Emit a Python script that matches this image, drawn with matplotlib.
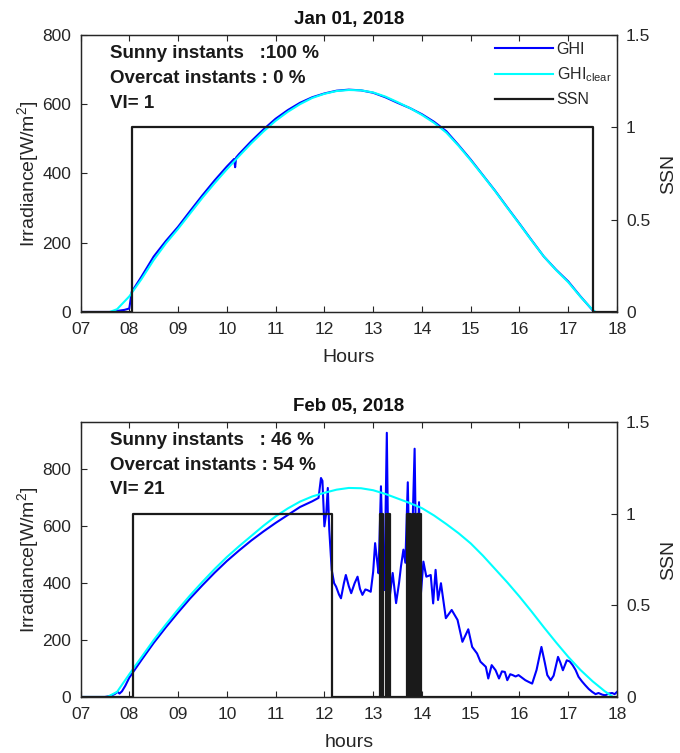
import matplotlib
matplotlib.use('Agg')
import matplotlib.pyplot as plt
from matplotlib.lines import Line2D

plt.rcParams['font.family'] = ['Liberation Sans', 'DejaVu Sans']
plt.rcParams['mathtext.default'] = 'regular'
plt.rcParams['font.size'] = 12

# ---- Jan 01, 2018 ----
jan_t = [7.00, 7.60, 7.65, 7.75, 7.90, 8.00, 8.05, 8.25, 8.50, 8.75, 9.00, 9.25, 9.50,
         9.75, 10.00, 10.15, 10.17, 10.19, 10.25, 10.50, 10.75, 11.00, 11.25, 11.50,
         11.75, 12.00, 12.25, 12.50, 12.75, 13.00, 13.25, 13.50, 13.75, 14.00, 14.25,
         14.50, 14.75, 15.00, 15.25, 15.50, 15.75, 16.00, 16.25, 16.50, 16.75, 17.00,
         17.25, 17.50, 17.53]
jan_ghi = [0, 0, 0, 3, 6, 10, 58, 102, 160, 205, 246, 292, 337, 380, 420, 442, 418,
           446, 456, 493, 527, 558, 583, 604, 620, 631, 639, 642, 640, 633, 620, 604,
           589, 571, 549, 522, 482, 440, 395, 350, 302, 255, 207, 160, 122, 88, 45, 5, 0]
jan_clr_t = [7.60, 7.75, 8.00, 8.25, 8.50, 8.75, 9.00, 9.25, 9.50, 9.75, 10.00, 10.25,
             10.50, 10.75, 11.00, 11.25, 11.50, 11.75, 12.00, 12.25, 12.50, 12.75, 13.00,
             13.25, 13.50, 13.75, 14.00, 14.25, 14.50, 14.75, 15.00, 15.25, 15.50, 15.75,
             16.00, 16.25, 16.50, 16.75, 17.00, 17.25, 17.50, 17.56]
jan_clr = [0, 8, 45, 95, 150, 198, 240, 285, 330, 372, 412, 450, 487, 521, 552, 578, 600,
           618, 630, 638, 641, 640, 634, 622, 606, 589, 569, 546, 518, 480, 438, 394, 349,
           301, 254, 206, 160, 121, 86, 44, 6, 0]
jan_ssn_t = [7.00, 8.05, 17.50, 18.00]
jan_ssn = [0, 1, 0, 0]

# ---- Feb 05, 2018 ----
feb_t = [7.00, 7.50, 7.60, 7.70, 7.76, 7.80, 7.85, 7.92, 8.00, 8.25, 8.50, 8.75, 9.00,
         9.25, 9.50, 9.75, 10.00, 10.25, 10.50, 10.75, 11.00, 11.25, 11.50, 11.75, 11.88,
         11.93, 11.96, 12.00, 12.04, 12.07, 12.10, 12.15, 12.20, 12.24, 12.30, 12.34,
         12.40, 12.44, 12.50, 12.55, 12.62, 12.68, 12.73, 12.78, 12.84, 12.88, 12.95,
         13.00, 13.04, 13.08, 13.11, 13.16, 13.20, 13.23, 13.28, 13.31, 13.34, 13.40,
         13.47, 13.53, 13.57, 13.62, 13.66, 13.71, 13.74, 13.77, 13.85, 13.89, 13.94,
         13.98, 14.03, 14.09, 14.18, 14.23, 14.28, 14.33, 14.39, 14.49, 14.61, 14.73,
         14.83, 14.95, 15.03, 15.13, 15.20, 15.31, 15.36, 15.43, 15.51, 15.58, 15.64,
         15.70, 15.75, 15.81, 15.86, 15.92, 15.98, 16.05, 16.12, 16.20, 16.26, 16.35,
         16.45, 16.52, 16.57, 16.64, 16.70, 16.79, 16.84, 16.89, 16.97, 17.03, 17.09,
         17.15, 17.21, 17.28, 17.35, 17.42, 17.49, 17.56, 17.62, 17.70, 17.76, 17.83,
         17.90, 17.95, 18.00]
feb_ghi = [0, 0, 3, 10, 18, 12, 20, 40, 68, 130, 190, 245, 297, 347, 393, 437, 478, 515,
           550, 582, 612, 640, 668, 688, 700, 770, 760, 600, 650, 735, 588, 447, 400, 388,
           360, 347, 400, 429, 390, 365, 400, 423, 380, 359, 378, 376, 370, 440, 541, 480,
           435, 741, 450, 376, 929, 500, 353, 436, 330, 400, 459, 518, 472, 755, 500, 366,
           873, 366, 685, 365, 476, 423, 429, 329, 447, 341, 400, 277, 306, 271, 194, 238,
           176, 153, 124, 106, 65, 112, 94, 65, 90, 88, 59, 80, 77, 72, 77, 68, 59, 52, 47,
           95, 176, 120, 77, 59, 75, 141, 120, 94, 129, 125, 112, 95, 71, 55, 41, 28, 18,
           10, 14, 8, 6, 12, 14, 10, 18]
feb_clr_t = [7.00, 7.55, 7.75, 8.00, 8.25, 8.50, 8.75, 9.00, 9.25, 9.50, 9.75, 10.00,
             10.25, 10.50, 10.75, 11.00, 11.25, 11.50, 11.75, 12.00, 12.25, 12.50, 12.75,
             13.00, 13.25, 13.50, 13.75, 14.00, 14.25, 14.50, 14.75, 15.00, 15.25, 15.50,
             15.75, 16.00, 16.25, 16.50, 16.75, 17.00, 17.25, 17.50, 17.75, 17.92, 18.00]
feb_clr = [0, 0, 18, 80, 140, 200, 255, 308, 358, 405, 450, 492, 530, 566, 602, 635, 663,
           687, 705, 718, 729, 735, 734, 727, 714, 698, 682, 664, 638, 608, 576, 540, 497,
           450, 403, 353, 300, 245, 192, 141, 95, 55, 20, 0, 0]
feb_ssn_t = [7.00, 8.08, 12.15, 13.15, 13.17, 13.19, 13.21, 13.26, 13.29, 13.31, 13.35,
             13.70, 13.73, 13.75, 13.77, 13.81, 13.86, 13.90, 13.93, 13.95, 13.98, 18.00]
feb_ssn = [0, 1, 0, 1, 0, 1, 0, 1, 0, 1, 0, 1, 0, 1, 0, 1, 0, 1, 0, 1, 0, 0]

hour_ticks = list(range(7, 19))
hour_labels = ['%02d' % h for h in hour_ticks]

TXT = '#262626'


def draw_day(fig, rect, title, xlabel, t, ghi, tc, clr, ts, ssn, ytop, notes, legend):
    ax = fig.add_axes(rect)
    ax.plot(t, ghi, color='#0000ff', lw=1.5, label='GHI')
    ax.plot(tc, clr, color='#00ffff', lw=1.5, label='GHI$_{clear}$')
    ax.set_xlim(7, 18)
    ax.set_ylim(0, ytop)
    ax.set_yticks([0, 200, 400, 600, 800])
    ax.set_xticks(hour_ticks)
    ax.set_xticklabels(hour_labels)
    ax.tick_params(direction='in', top=True, right=False, length=4, width=0.8,
                   labelsize=12.5, colors=TXT)
    ax.tick_params(axis='y', pad=6.5)
    ax.tick_params(axis='x', pad=7)
    ax.set_ylabel('Irradiance[W/m$^2$]', fontsize=14, color=TXT, labelpad=1)
    ax.set_xlabel(xlabel, fontsize=14, color=TXT, labelpad=9)
    ax.set_title(title, fontsize=13.5, fontweight='bold', color='#111111', pad=8)

    ax2 = ax.twinx()
    ax2.plot(ts, ssn, color='#1a1a1a', lw=1.6, drawstyle='steps-post', label='SSN')
    ax2.set_ylim(0, 1.5)
    ax2.set_yticks([0, 0.5, 1, 1.5])
    ax2.set_yticklabels(['0', '0.5', '1', '1.5'])
    ax2.tick_params(direction='in', length=4, width=0.8, labelsize=12.5, colors=TXT,
                    pad=6.5)
    ax2.set_ylabel('SSN', fontsize=14, color=TXT, labelpad=7)
    for a in (ax, ax2):
        for s in a.spines.values():
            s.set_linewidth(0.9)
            s.set_color('#262626')

    for i, line in enumerate(notes):
        ax2.text(0.055, [0.933, 0.843, 0.753][i], line, transform=ax2.transAxes,
                 fontsize=13.5, fontweight='bold', color='#1a1a1a', va='center')

    if legend:
        handles = [Line2D([], [], color='#0000ff', lw=1.5),
                   Line2D([], [], color='#00ffff', lw=1.5),
                   Line2D([], [], color='#1a1a1a', lw=1.6)]
        leg = ax2.legend(handles, ['GHI', 'GHI$_{clear}$', 'SSN'], loc='upper right',
                         bbox_to_anchor=(1.01, 1.015), frameon=False, fontsize=11.5,
                         handlelength=3.6, handletextpad=0.25, labelspacing=0.52,
                         borderaxespad=0.3)
        for txt in leg.get_texts():
            txt.set_color(TXT)


fig = plt.figure(figsize=(6.8, 7.53), dpi=100)

draw_day(fig, [0.1184, 0.5857, 0.789, 0.3679], 'Jan 01, 2018', 'Hours',
         jan_t, jan_ghi, jan_clr_t, jan_clr, jan_ssn_t, jan_ssn, 800,
         ['Sunny instants   :100 %', 'Overcat instants : 0 %', 'VI= 1'], True)

draw_day(fig, [0.1184, 0.0744, 0.789, 0.3652], 'Feb 05, 2018', 'hours',
         feb_t, feb_ghi, feb_clr_t, feb_clr, feb_ssn_t, feb_ssn, 967,
         ['Sunny instants   : 46 %', 'Overcat instants : 54 %', 'VI= 21'], False)

fig.savefig('out.png', dpi=100)
